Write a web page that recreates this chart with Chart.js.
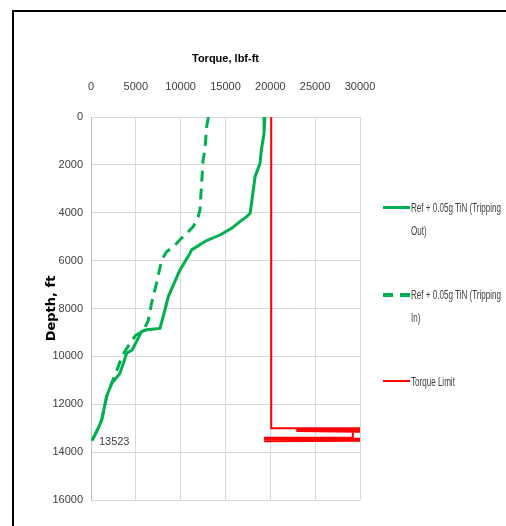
<!DOCTYPE html>
<html>
<head>
<meta charset="utf-8">
<script src="https://cdn.jsdelivr.net/npm/chart.js@4.4.0/dist/chart.umd.min.js"></script>
<style>
    body { margin: 0; background: #fff; }
    #wrap { position: relative; width: 506px; height: 526px; overflow: hidden; }
    #frame { position: absolute; left: 12px; top: 10px; width: 600px; height: 600px;
             border-top: 2px solid #000; border-left: 2px solid #000; }
    canvas { position: absolute; left: 0; top: 0; }
    #legend { position: absolute; left: 383px; top: 0; width: 123px;
              font-family: "Liberation Sans", sans-serif;
              font-size: 13px; color: #404040; }
    .item { position: absolute; left: 0; width: 123px; line-height: 23px; }
    .swatch { position: absolute; left: 0; top: 10px; width: 27px; }
    .txt { position: absolute; left: 28px; top: 0; white-space: nowrap;
           transform: scaleX(0.62); transform-origin: 0 0; }
</style>
</head>
<body>
<div id="wrap">
    <div id="frame"></div>
    <canvas id="chart" width="506" height="526"></canvas>
    <div id="legend"></div>
</div>
<script>
// === DATOS ===
const xTicks = [0, 5000, 10000, 15000, 20000, 25000, 30000];
const yTicks = [0, 2000, 4000, 6000, 8000, 10000, 12000, 14000, 16000];

// Ref + 0.05g TiN (Tripping Out)
const outDepth  = [0, 670, 1380, 1935, 2490, 4020, 4160, 4400, 4650, 4930, 5160, 5550, 5690, 6390, 7500, 8060, 8830, 8890, 8960, 9730, 9870, 10710, 11130, 11680, 12660, 13000, 13523];
const outTorque = [19400, 19300, 19000, 18850, 18300, 17750, 17360, 16500, 15680, 14380, 12890, 11220, 11040, 9920, 8620, 8250, 7690, 6200, 5640, 4600, 3980, 3230, 2300, 1740, 1190, 810, 100];

// Ref + 0.05g TiN (Tripping In)
const inDepth  = [0, 400, 1380, 1800, 3880, 4160, 4580, 4860, 5140, 5420, 5620, 5970, 6950, 7780, 8480, 8960, 9110, 9450, 10010, 10430, 11130, 11680, 12660, 13000, 13523];
const inTorque = [13100, 12900, 12700, 12500, 12150, 11960, 11400, 10660, 9900, 9200, 8450, 7880, 7300, 6750, 6400, 5830, 5000, 4350, 3420, 3040, 2300, 1740, 1190, 810, 100];

// Torque Limit
const limDepth  = [0, 13000, 13000, 13040, 13080, 13120, 13150, 13150, 13400, 13400, 13440, 13480, 13520, 13550];
const limTorque = [20100, 20100, 30500, 22900, 30500, 22900, 30500, 29200, 29200, 19300, 30500, 19300, 30500, 19300];

const labels = ["Ref + 0.05g TiN (Tripping Out)", "Ref + 0.05g TiN (Tripping In)", "Torque Limit"];
const finalDepthLabel = "13523";

function puntos(xs, ys) {
    return xs.map((x, i) => ({ x: x, y: ys[i] }));
}

const verde = "#00b050";
const rojo = "#ff0000";
const fuente = "'Liberation Sans', sans-serif";

// === ETIQUETA DEL ÚLTIMO PUNTO ===
const etiquetaFinal = {
    id: "etiquetaFinal",
    afterDatasetsDraw(chart) {
        const meta = chart.getDatasetMeta(0);
        const p = meta.data[meta.data.length - 1];
        const ctx = chart.ctx;
        ctx.save();
        ctx.font = "11px " + fuente;
        ctx.fillStyle = "#404040";
        ctx.textBaseline = "middle";
        ctx.fillText(finalDepthLabel, p.x + 7, p.y + 1);
        ctx.restore();
    }
};

const chart = new Chart(document.getElementById("chart"), {
    type: "scatter",
    data: {
        datasets: [
            { label: labels[0], data: puntos(outTorque, outDepth), borderColor: verde, borderWidth: 3, showLine: true, pointRadius: 0, tension: 0 },
            { label: labels[1], data: puntos(inTorque, inDepth), borderColor: verde, borderWidth: 3, borderDash: [11, 7], showLine: true, pointRadius: 0, tension: 0 },
            { label: labels[2], data: puntos(limTorque, limDepth), borderColor: rojo, borderWidth: 2, showLine: true, pointRadius: 0, tension: 0 }
        ]
    },
    options: {
        responsive: false,
        animation: false,
        layout: { padding: { left: 40, top: 48, right: 146, bottom: 26 } },
        plugins: { legend: { display: false }, tooltip: { enabled: false } },
        scales: {
            x: {
                type: "linear", position: "top", min: 0, max: 30000,
                afterBuildTicks: s => { s.ticks = xTicks.map(v => ({ value: v })); },
                afterFit: s => { s.height = 69; },
                grid: { color: "#d9d9d9", drawTicks: false },
                border: { color: "#d9d9d9" },
                ticks: { padding: 23, color: "#404040", font: { family: fuente, size: 11 }, callback: v => String(v) },
                title: { display: true, text: "Torque, lbf-ft", color: "#000", padding: { top: 4, bottom: 0 },
                         font: { family: fuente, size: 11, weight: "bold" } }
            },
            y: {
                type: "linear", reverse: true, min: 0, max: 16000,
                afterBuildTicks: s => { s.ticks = yTicks.map(v => ({ value: v })); },
                afterFit: s => { s.width = 51; },
                grid: { color: "#d9d9d9", drawTicks: false },
                border: { color: "#bfbfbf" },
                ticks: { padding: 8, color: "#404040", font: { family: fuente, size: 11 }, callback: v => String(v) },
                title: { display: true, text: "Depth, ft", color: "#000", padding: 4,
                         font: { family: "'DejaVu Sans'", size: 13, weight: "bold" } }
            }
        }
    },
    plugins: [etiquetaFinal]
});

// === LEYENDA ===
// las etiquetas largas se parten antes de la última palabra, como en el original
function partir(txt) {
    if (txt.length < 20) return txt;
    const k = txt.lastIndexOf(" ");
    return txt.slice(0, k) + "<br>" + txt.slice(k + 1);
}
const legendTops = [196, 283, 370];
document.getElementById("legend").innerHTML = chart.data.datasets.map((d, i) => {
    const sw = d.borderDash
        ? `<div class="swatch" style="height:4px;background:repeating-linear-gradient(90deg, ${d.borderColor} 0 10px, transparent 10px 17px);"></div>`
        : `<div class="swatch" style="height:${d.borderWidth}px;background:${d.borderColor};"></div>`;
    return `<div class="item" style="top:${legendTops[i]}px">${sw}<div class="txt">${partir(d.label)}</div></div>`;
}).join("");
</script>
</body>
</html>
